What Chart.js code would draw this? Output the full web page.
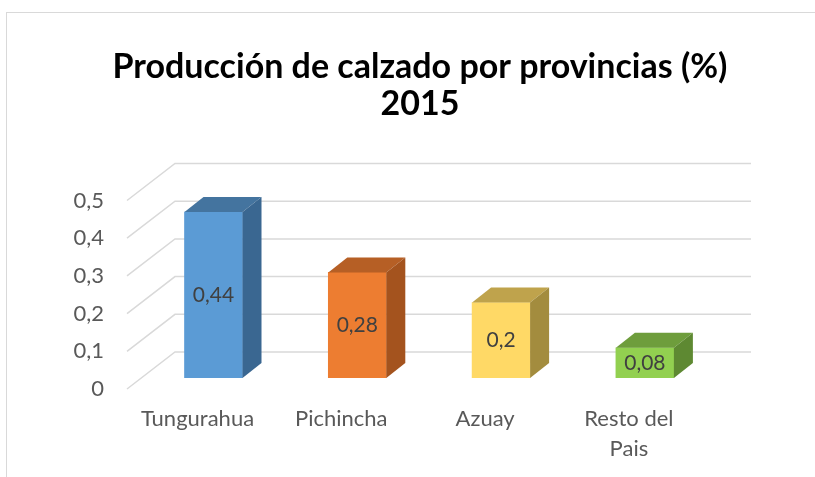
<!DOCTYPE html>
<html>
<head>
<meta charset="utf-8">
<script src="https://cdn.jsdelivr.net/npm/chart.js@4"></script>
<style>
  html, body { margin: 0; padding: 0; background: #fff; overflow: hidden; }
  #wrap { position: relative; width: 815px; height: 477px; }
  #frame { position: absolute; left: 6px; top: 12px; width: 900px; height: 600px;
           border-top: 1px solid #d9d9d9; border-left: 1px solid #d9d9d9; }
  canvas { position: absolute; left: 0; top: 0; }
</style>
</head>
<body>
<div id="wrap">
  <div id="frame"></div>
  <canvas id="shoesChart" width="815" height="477"></canvas>
</div>
<script>
// datos
const provinces = [
    'Tungurahua',
    'Pichincha',
    'Azuay',
    ['Resto del', 'Pais']
]

const shares = [0.44, 0.28, 0.2, 0.08]

const titleLines = ['Producción de calzado por provincias (%)', '2015']

// front / top / side of each 3d bar
const frontColors = ['#5B9BD5', '#ED7D31', '#FFD966', '#92D050']
const topColors = ['#44749F', '#B65F25', '#BFA34C', '#6E9D3C']
const sideColors = ['#3A6791', '#A4531E', '#A38C3E', '#5E8932']

const DX = 19, DY = -15;
const comma = v => String(v).replace('.', ',');

const wallGrid = {
    id: 'wallGrid',
    beforeDatasetsDraw(chart) {
        const { ctx, scales: { y } } = chart;
        ctx.save();
        ctx.strokeStyle = '#D9D9D9';
        ctx.lineWidth = 1.5;
        [0, 0.1, 0.2, 0.3, 0.4, 0.5].forEach(v => {
            const py = y.getPixelForValue(v);
            ctx.beginPath();
            ctx.moveTo(127, py + 11);
            ctx.lineTo(175, py - 26);
            ctx.lineTo(751, py - 26);
            ctx.stroke();
        });
        ctx.restore();
    }
};

const bars3d = {
    id: 'bars3d',
    afterDatasetsDraw(chart) {
        const { ctx } = chart;
        const meta = chart.getDatasetMeta(0);
        ctx.save();
        meta.data.forEach((bar, i) => {
            const { x, y, base, width } = bar.getProps(['x', 'y', 'base', 'width'], true);
            const l = x - width / 2, r = x + width / 2;
            // top
            ctx.fillStyle = topColors[i];
            ctx.beginPath();
            ctx.moveTo(l, y);
            ctx.lineTo(l + DX, y + DY);
            ctx.lineTo(r + DX, y + DY);
            ctx.lineTo(r, y);
            ctx.closePath();
            ctx.fill();
            // side
            ctx.fillStyle = sideColors[i];
            ctx.beginPath();
            ctx.moveTo(r, y);
            ctx.lineTo(r + DX, y + DY);
            ctx.lineTo(r + DX, base + DY);
            ctx.lineTo(r, base);
            ctx.closePath();
            ctx.fill();
            // value label
            ctx.fillStyle = '#404040';
            ctx.font = '21px Lato';
            ctx.textAlign = 'center';
            ctx.textBaseline = 'middle';
            ctx.fillText(comma(shares[i]), x, (y + base) / 2);
        });
        ctx.restore();
    }
};

const ctx = document.getElementById('shoesChart');
new Chart(ctx, {
    type: 'bar',
    data: {
        labels: provinces,
        datasets: [{
            data: shares,
            backgroundColor: frontColors,
            borderWidth: 0,
            barThickness: 58
        }]
    },
    options: {
        responsive: false,
        animation: false,
        events: [],
        layout: { padding: { left: 25, right: 0, top: 0, bottom: 0 } },
        plugins: {
            legend: { display: false },
            tooltip: { enabled: false },
            title: {
                display: true,
                text: titleLines,
                color: '#000',
                font: { family: 'Lato', size: 34, weight: 'bold', lineHeight: 37 / 34 },
                padding: { top: 49, bottom: 66.5 }
            }
        },
        scales: {
            x: {
                grid: { display: false, drawTicks: false },
                border: { display: false },
                ticks: {
                    color: '#595959',
                    font: { family: 'Lato', size: 22, lineHeight: 30 / 22 },
                    labelOffset: -16,
                    padding: 26,
                    maxRotation: 0
                },
                afterFit(scale) { scale.height = 99; scale.paddingLeft = 0; scale.paddingRight = 0; }
            },
            y: {
                min: 0,
                max: 0.5,
                grid: { display: false, drawTicks: false },
                border: { display: false },
                ticks: {
                    stepSize: 0.1,
                    color: '#595959',
                    font: { family: 'Lato', size: 22 },
                    labelOffset: 11,
                    padding: 37.6,
                    callback: v => v === 0 ? '0' : v.toFixed(1).replace('.', ',')
                },
                afterFit(scale) { scale.width = 116.6; }
            },
            side: {
                type: 'linear',
                position: 'right',
                grid: { display: false },
                border: { display: false },
                ticks: { display: false },
                afterFit(scale) { scale.width = 98.2; }
            }
        }
    },
    plugins: [wallGrid, bars3d]
});
</script>
</body>
</html>
